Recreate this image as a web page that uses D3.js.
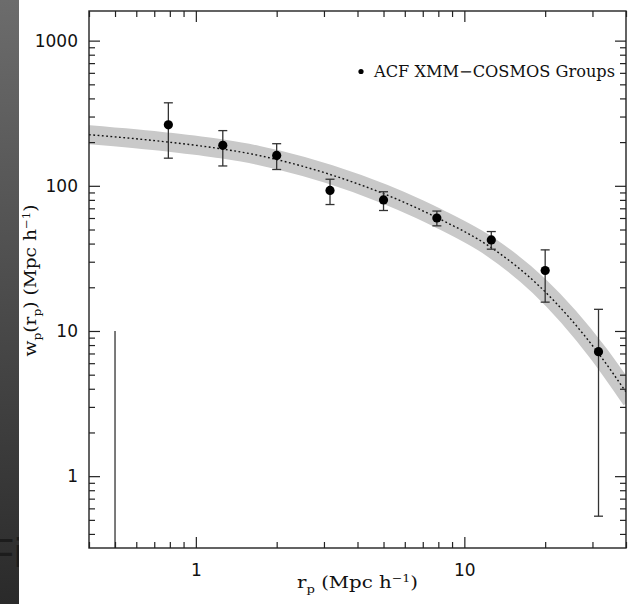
<!DOCTYPE html>
<html>
<head>
<meta charset="utf-8">
<script src="https://cdn.jsdelivr.net/npm/d3@7/dist/d3.min.js"></script>
<style>
  html, body { margin: 0; padding: 0; background: #fff; }
  svg { display: block; }
</style>
</head>
<body>
<script>
// ---- data ----
const rp      = [0.50, 0.79, 1.26, 2.0, 3.16, 5.0, 7.9, 12.6, 20.0, 31.6];
const wp      = [0.1, 263, 190, 162, 93, 80, 60, 42.4, 26.1, 7.2];
const wpHigh  = [10, 373, 240, 195, 111, 91, 67, 48.4, 36.2, 14.1];
const wpLow   = [0.1, 155, 137, 129.5, 74.3, 67.6, 53, 36.6, 15.8, 0.53];

const modelRp = [0.4, 0.79, 1.25, 1.7, 2.0, 3.15, 5.0, 6.8, 8.0, 12.6, 19, 31.6, 40];
const modelWp = [225, 200, 179.5, 162.5, 151.7, 120, 88.3, 69, 59.7, 37.5, 20.4, 7.0, 3.8];

const xMajorTicks = [1, 10];
const yMajorTicks = [1, 10, 100, 1000];
const legendLabel = "ACF XMM\u2212COSMOS Groups";

// ---- layout ----
const W = 630, H = 604;
const L = 89, R = 626, T = 11, B = 548;

const svg = d3.select("body").append("svg").attr("width", W).attr("height", H);

// left dark strip
const defs = svg.append("defs");
const grad = defs.append("linearGradient").attr("id", "strip").attr("x1", 0).attr("y1", 0).attr("x2", 0).attr("y2", 1);
grad.append("stop").attr("offset", "0%").attr("stop-color", "#6c6c6c");
grad.append("stop").attr("offset", "100%").attr("stop-color", "#2a2a2a");
defs.append("clipPath").attr("id", "stripClip").append("rect").attr("x", 0).attr("y", 0).attr("width", 19).attr("height", H);
defs.append("clipPath").attr("id", "plotClip").append("rect").attr("x", L).attr("y", T).attr("width", R - L).attr("height", B - T);

svg.append("rect").attr("x", 0).attr("y", 0).attr("width", 19).attr("height", H).attr("fill", "url(#strip)");
svg.append("text").attr("clip-path", "url(#stripClip)")
  .attr("x", -11).attr("y", 567).attr("font-family", "Liberation Sans, Arial, sans-serif")
  .attr("font-size", 41).attr("fill", "#1c1c1c").text("Fi");

// ---- scales ----
const x = d3.scaleLog().domain([0.4, 40]).range([L, R]);
const y = d3.scaleLog().domain([0.32, 1600]).range([B, T]);

const isMajor = v => Math.abs(Math.log10(v) - Math.round(Math.log10(v))) < 1e-9;
const xMinor = x.ticks().filter(v => !isMajor(v));
const yMinor = y.ticks().filter(v => !isMajor(v));

// ---- model band and line ----
const modelPts = modelRp.map((r, i) => [r, modelWp[i]]);
const line = d3.line().x(d => x(d[0])).y(d => y(d[1])).curve(d3.curveMonotoneX);
const plot = svg.append("g").attr("clip-path", "url(#plotClip)");
plot.append("path").attr("d", line(modelPts)).attr("fill", "none")
  .attr("stroke", "#c9c9c9").attr("stroke-width", 19).attr("stroke-linecap", "square");
plot.append("path").attr("d", line(modelPts)).attr("fill", "none")
  .attr("stroke", "#111").attr("stroke-width", 1.4).attr("stroke-dasharray", "1.8,2.5");

// ---- error bars and points ----
const cap = 4.5;
rp.forEach((r, i) => {
  const cx = x(r);
  const yTop = y(wpHigh[i]);
  const yBot = Math.min(y(wpLow[i]), B);
  plot.append("line").attr("x1", cx).attr("x2", cx).attr("y1", yTop).attr("y2", yBot)
    .attr("stroke", "#333").attr("stroke-width", 1.3);
  if (wp[i] >= y.domain()[0]) {
    plot.append("line").attr("x1", cx - cap).attr("x2", cx + cap).attr("y1", yTop).attr("y2", yTop)
      .attr("stroke", "#333").attr("stroke-width", 1.3);
    if (wpLow[i] >= y.domain()[0]) {
      plot.append("line").attr("x1", cx - cap).attr("x2", cx + cap).attr("y1", yBot).attr("y2", yBot)
        .attr("stroke", "#333").attr("stroke-width", 1.3);
    }
    plot.append("circle").attr("cx", cx).attr("cy", y(wp[i])).attr("r", 4.6).attr("fill", "#000");
  }
});

// ---- axes (inward ticks on all four sides) ----
function styleAxis(g) {
  g.select(".domain").remove();
  g.selectAll(".tick line").attr("stroke", "#222").attr("stroke-width", 1.2);
}
const tickFont = "DejaVu Sans, Verdana, sans-serif";

// bottom
svg.append("g").attr("transform", `translate(0,${B})`)
  .call(d3.axisBottom(x).tickValues(xMajorTicks).tickSizeInner(-11).tickSizeOuter(0)
    .tickPadding(16).tickFormat(d3.format("d")))
  .call(styleAxis)
  .call(g => g.selectAll("text").attr("font-family", tickFont).attr("font-size", 17).attr("fill", "#111"));
svg.append("g").attr("transform", `translate(0,${B})`)
  .call(d3.axisBottom(x).tickValues(xMinor).tickSizeInner(-6).tickSizeOuter(0).tickFormat(""))
  .call(styleAxis);
// top
svg.append("g").attr("transform", `translate(0,${T})`)
  .call(d3.axisTop(x).tickValues(xMajorTicks).tickSizeInner(-11).tickSizeOuter(0).tickFormat(""))
  .call(styleAxis);
svg.append("g").attr("transform", `translate(0,${T})`)
  .call(d3.axisTop(x).tickValues(xMinor).tickSizeInner(-6).tickSizeOuter(0).tickFormat(""))
  .call(styleAxis);
// left
svg.append("g").attr("transform", `translate(${L},0)`)
  .call(d3.axisLeft(y).tickValues(yMajorTicks).tickSizeInner(-11).tickSizeOuter(0)
    .tickPadding(11).tickFormat(d3.format("d")))
  .call(styleAxis)
  .call(g => g.selectAll("text").attr("font-family", tickFont).attr("font-size", 17).attr("fill", "#111"));
svg.append("g").attr("transform", `translate(${L},0)`)
  .call(d3.axisLeft(y).tickValues(yMinor).tickSizeInner(-6).tickSizeOuter(0).tickFormat(""))
  .call(styleAxis);
// right
svg.append("g").attr("transform", `translate(${R},0)`)
  .call(d3.axisRight(y).tickValues(yMajorTicks).tickSizeInner(-11).tickSizeOuter(0).tickFormat(""))
  .call(styleAxis);
svg.append("g").attr("transform", `translate(${R},0)`)
  .call(d3.axisRight(y).tickValues(yMinor).tickSizeInner(-6).tickSizeOuter(0).tickFormat(""))
  .call(styleAxis);

// frame
svg.append("rect").attr("x", L).attr("y", T).attr("width", R - L).attr("height", B - T)
  .attr("fill", "none").attr("stroke", "#222").attr("stroke-width", 1.4);

// ---- legend ----
const serif = "DejaVu Serif, Liberation Serif, serif";
svg.append("circle").attr("cx", 361).attr("cy", 71.5).attr("r", 2.6).attr("fill", "#000");
svg.append("text").attr("x", 374).attr("y", 77).attr("font-family", serif).attr("font-size", 16)
  .attr("fill", "#111").attr("textLength", 241).attr("lengthAdjust", "spacingAndGlyphs").text(legendLabel);

// ---- axis titles ----
const xt = svg.append("text").attr("x", (L + R) / 2).attr("y", 588).attr("text-anchor", "middle")
  .attr("font-family", serif).attr("font-size", 16.5).attr("fill", "#111")
  .attr("textLength", 121).attr("lengthAdjust", "spacingAndGlyphs");
xt.append("tspan").text("r");
xt.append("tspan").attr("font-size", 11).attr("dy", 5).text("p");
xt.append("tspan").attr("dy", -5).text(" (Mpc h");
xt.append("tspan").attr("font-size", 10.5).attr("dy", -6).text("\u22121");
xt.append("tspan").attr("dy", 6).text(")");

const yt = svg.append("text").attr("transform", `translate(36,${(T + B) / 2 + 1}) rotate(-90)`)
  .attr("text-anchor", "middle").attr("font-family", serif).attr("font-size", 16.5).attr("fill", "#111")
  .attr("textLength", 152).attr("lengthAdjust", "spacingAndGlyphs");
yt.append("tspan").text("w");
yt.append("tspan").attr("font-size", 11).attr("dy", 5).text("p");
yt.append("tspan").attr("dy", -5).text("(r");
yt.append("tspan").attr("font-size", 11).attr("dy", 5).text("p");
yt.append("tspan").attr("dy", -5).text(") (Mpc h");
yt.append("tspan").attr("font-size", 10.5).attr("dy", -6).text("\u22121");
yt.append("tspan").attr("dy", 6).text(")");
</script>
</body>
</html>
